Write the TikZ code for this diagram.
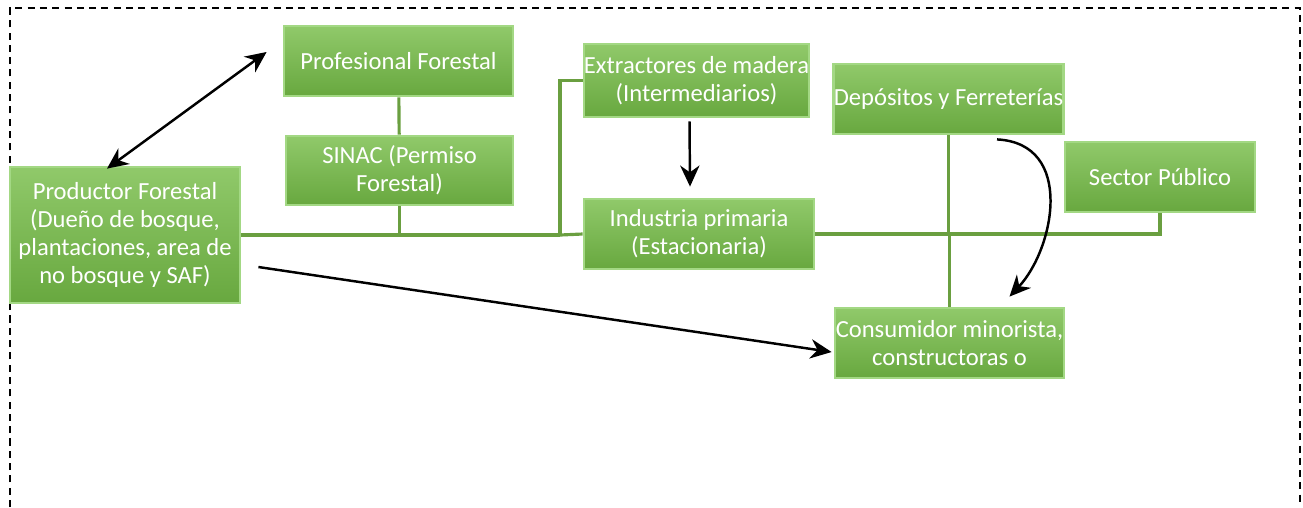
\documentclass[tikz,border=0pt]{standalone}
\usepackage{fontspec}
\setmainfont{Carlito}
\usetikzlibrary{calc,arrows.meta}
\definecolor{boxtop}{HTML}{90C96A}
\definecolor{boxbot}{HTML}{68A83F}
\definecolor{boxedge}{HTML}{A3D884}
\definecolor{linkgreen}{HTML}{6A9F40}
\begin{document}
\begin{tikzpicture}[>={Stealth[length=6pt,width=5.5pt]},
  actor/.style={top color=boxtop, bottom color=boxbot, draw=boxedge, line width=0.8pt,
    text=white, align=center, inner sep=0pt, minimum width=2.29cm, minimum height=0.70cm,
    font=\fontsize{7}{7.9}\selectfont},
  link/.style={draw=linkgreen, line width=0.9pt},
  flow/.style={draw=black, line width=0.7pt}]
  \useasboundingbox (0,0) rectangle (13.03,-5.07);
  % dashed frame, open at the bottom
  \draw[dash pattern=on 2pt off 1.5pt, line width=0.4pt]
    (0.10,-5.07) -- (0.10,-0.08) -- (13.00,-0.08) -- (13.00,-5.07);

  % actors of the chain
  \node[actor, minimum width=2.30cm, minimum height=1.36cm] (prod) at (1.25,-2.35)
    {Productor Forestal\\(Dueño de bosque,\\plantaciones, area de\\no bosque y SAF)};
  \node[actor] (prof) at (3.985,-0.61) {Profesional Forestal};
  \node[actor, minimum width=2.27cm, minimum height=0.69cm] (sinac) at (3.995,-1.705) {SINAC (Permiso\\Forestal)};
  \node[actor, minimum width=2.25cm, minimum height=0.73cm] (extr) at (6.965,-0.805) {Extractores de madera\\(Intermediarios)};
  \node[actor, minimum width=2.30cm] (ind) at (6.99,-2.34) {Industria primaria\\(Estacionaria)};
  \node[actor] (dep) at (9.485,-0.99) {Depósitos y Ferreterías};
  \node[actor, minimum width=1.90cm] (sector) at (11.60,-1.77) {Sector Público};
  \node[actor] (cons) at (9.495,-3.43) {Consumidor minorista,\\constructoras o};

  % green links
  \coordinate (j1) at (5.60,-2.35);
  \draw[link] (prof) -- (sinac);
  \draw[link] (prod.east) -- (j1);
  \draw[link] (sinac.south) -- (sinac.south |- prod.east);
  \draw[link] (j1) |- (extr.west);
  \draw[link] (j1) -- (ind.west);
  \draw[link] (ind.east) -| (sector.south);
  \draw[link] (dep.south) -- (dep.south |- ind.east);
  \draw[link] (cons.north) -- (cons.north |- ind.east);

  % black arrows
  \draw[flow, <->] ([xshift=-1.8mm,yshift=-0.3mm]prod.north) -- ([xshift=-1.6mm,yshift=0.9mm]prof.west);
  \draw[flow, ->] ([xshift=-0.7mm,yshift=-0.3mm]extr.south) -- ([xshift=-0.9mm,yshift=1.1mm]ind.north);
  \draw[flow, ->] ([xshift=1.7mm,yshift=-3.2mm]prod.east) -- ([xshift=-0.2mm,yshift=-0.9mm]cons.west);
  \draw[flow, ->] ([xshift=4.85mm,yshift=-0.4mm]dep.south)
    .. controls +(0.78,-0.04) and +(0.45,0.48) .. ([xshift=6mm,yshift=1mm]cons.north);
\end{tikzpicture}
\end{document}
